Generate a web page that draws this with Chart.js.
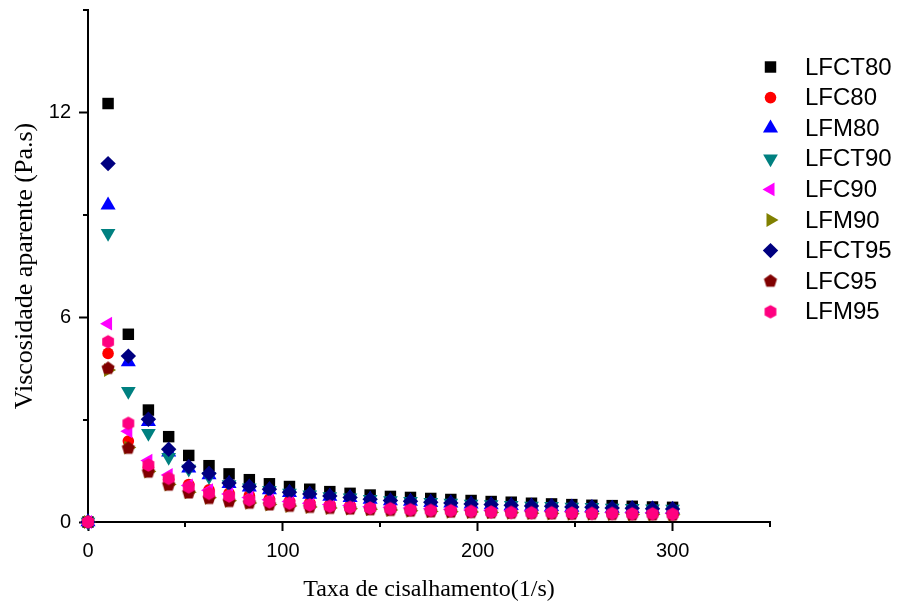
<!DOCTYPE html>
<html><head><meta charset="utf-8">
<script src="https://cdn.jsdelivr.net/npm/chart.js"></script>
<style>html,body{margin:0;padding:0;background:#fff}#wrap{width:899px;height:601px}</style>
</head><body><div id="wrap"><canvas id="c" width="899" height="601"></canvas></div>
<script>
// ---- data ----
const shearRate = [0, 10.3, 20.7, 31.0, 41.4, 51.7, 62.1, 72.4, 82.8, 93.1, 103.4, 113.8, 124.1, 134.5, 144.8, 155.2, 165.5, 175.9, 186.2, 196.6, 206.9, 217.2, 227.6, 237.9, 248.3, 258.6, 269.0, 279.3, 289.7, 300];
const seriesNames = ['LFCT80', 'LFC80', 'LFM80', 'LFCT90', 'LFC90', 'LFM90', 'LFCT95', 'LFC95', 'LFM95'];
const LFCT80 = [0, 12.26, 5.50, 3.28, 2.50, 1.95, 1.65, 1.41, 1.24, 1.12, 1.04, 0.96, 0.89, 0.84, 0.79, 0.75, 0.72, 0.69, 0.66, 0.63, 0.60, 0.58, 0.55, 0.53, 0.51, 0.49, 0.48, 0.46, 0.44, 0.43];
const LFC80  = [0, 4.94, 2.37, 1.60, 1.25, 1.10, 0.94, 0.85, 0.78, 0.68, 0.62, 0.57, 0.52, 0.49, 0.46, 0.43, 0.41, 0.39, 0.37, 0.35, 0.34, 0.32, 0.31, 0.30, 0.29, 0.28, 0.27, 0.27, 0.26, 0.25];
const LFM80  = [0, 9.28, 4.69, 2.94, 2.05, 1.58, 1.38, 1.12, 1.02, 0.94, 0.86, 0.81, 0.75, 0.71, 0.66, 0.62, 0.60, 0.57, 0.55, 0.52, 0.50, 0.48, 0.46, 0.45, 0.43, 0.42, 0.40, 0.39, 0.38, 0.37];
const LFCT90 = [0, 8.46, 3.83, 2.60, 1.90, 1.55, 1.33, 1.10, 1.00, 0.93, 0.85, 0.80, 0.75, 0.71, 0.67, 0.63, 0.61, 0.58, 0.56, 0.53, 0.51, 0.49, 0.47, 0.46, 0.44, 0.43, 0.41, 0.40, 0.39, 0.38];
const LFC90  = [0, 5.81, 2.66, 1.80, 1.38, 1.07, 0.93, 0.82, 0.72, 0.65, 0.60, 0.55, 0.51, 0.48, 0.45, 0.43, 0.41, 0.39, 0.37, 0.35, 0.34, 0.33, 0.32, 0.31, 0.30, 0.29, 0.28, 0.27, 0.27, 0.26];
const LFM90  = [0, 4.45, 2.18, 1.48, 1.10, 0.87, 0.71, 0.62, 0.56, 0.51, 0.47, 0.44, 0.41, 0.39, 0.37, 0.35, 0.33, 0.31, 0.30, 0.29, 0.28, 0.27, 0.26, 0.25, 0.24, 0.24, 0.23, 0.22, 0.22, 0.21];
const LFCT95 = [0, 10.5, 4.86, 3.01, 2.13, 1.62, 1.42, 1.14, 1.04, 0.96, 0.87, 0.82, 0.76, 0.72, 0.67, 0.63, 0.61, 0.58, 0.56, 0.53, 0.51, 0.49, 0.47, 0.46, 0.44, 0.43, 0.41, 0.40, 0.39, 0.38];
const LFC95  = [0, 4.50, 2.16, 1.46, 1.08, 0.85, 0.69, 0.60, 0.55, 0.50, 0.46, 0.43, 0.40, 0.38, 0.36, 0.34, 0.32, 0.30, 0.29, 0.28, 0.27, 0.26, 0.25, 0.24, 0.23, 0.23, 0.22, 0.21, 0.21, 0.20];
const LFM95  = [0, 5.28, 2.89, 1.67, 1.28, 1.03, 0.84, 0.76, 0.65, 0.59, 0.55, 0.50, 0.46, 0.43, 0.41, 0.39, 0.36, 0.34, 0.33, 0.31, 0.29, 0.28, 0.27, 0.27, 0.26, 0.25, 0.25, 0.24, 0.24, 0.23];
const seriesValues = [LFCT80, LFC80, LFM80, LFCT90, LFC90, LFM90, LFCT95, LFC95, LFM95];
const xTickValues = [0, 100, 200, 300];
const yTickValues = [0, 6, 12];
const xMinorTicks = [50, 150, 250, 350];
const yMinorTicks = [3, 9, 15];
const xTitle = 'Taxa de cisalhamento(1/s)';
const yTitle = 'Viscosidade aparente (Pa.s)';

// ---- marker styles ----
function polyCanvas(n, r, color) {
  const size = Math.ceil(r * 2) + 2;
  const c = document.createElement('canvas');
  c.width = size; c.height = size;
  const g = c.getContext('2d');
  g.fillStyle = color; g.beginPath();
  for (let i = 0; i < n; i++) {
    const a = -Math.PI / 2 + i * 2 * Math.PI / n;
    const px = size / 2 + r * Math.cos(a), py = size / 2 + r * Math.sin(a);
    if (i) g.lineTo(px, py); else g.moveTo(px, py);
  }
  g.closePath(); g.fill();
  return c;
}
const styles = [
  {color: '#000000', style: 'rect', r: 8.1, rot: 0},
  {color: '#FF0000', style: 'circle', r: 5.8, rot: 0},
  {color: '#0000FF', style: 'triangle', r: 8.7, rot: 0},
  {color: '#008080', style: 'triangle', r: 8.5, rot: 180},
  {color: '#FF00FF', style: 'triangle', r: 8.0, rot: 270},
  {color: '#808000', style: 'triangle', r: 8.0, rot: 90},
  {color: '#000080', style: 'rectRot', r: 7.7, rot: 0},
  {color: '#800000', style: polyCanvas(5, 6.9, '#800000'), r: 7, rot: 0},
  {color: '#FF0080', style: polyCanvas(6, 6.8, '#FF0080'), r: 7, rot: 0}
];

const datasets = seriesNames.map((name, i) => ({
  label: name,
  data: shearRate.map((x, j) => ({x: x, y: seriesValues[i][j]})),
  backgroundColor: styles[i].color,
  borderColor: styles[i].color,
  pointStyle: styles[i].style,
  pointRadius: styles[i].r,
  pointRotation: styles[i].rot,
  pointBorderWidth: 0,
  showLine: false,
  clip: false,
  order: seriesNames.length - 1 - i
}));

const minorTicks = {
  id: 'minorTicks',
  afterDraw(chart) {
    const ctx = chart.ctx, xs = chart.scales.x, ys = chart.scales.y;
    ctx.save();
    ctx.strokeStyle = '#000'; ctx.lineWidth = 2;
    const b = ys.getPixelForValue(0), l = xs.getPixelForValue(0);
    xMinorTicks.forEach(v => {
      const px = Math.round(xs.getPixelForValue(v));
      ctx.beginPath(); ctx.moveTo(px, b); ctx.lineTo(px, b + 5); ctx.stroke();
    });
    yMinorTicks.forEach(v => {
      const py = Math.round(ys.getPixelForValue(v));
      ctx.beginPath(); ctx.moveTo(l, py); ctx.lineTo(l - 5, py); ctx.stroke();
    });
    ctx.restore();
  }
};

function drawMarker(ctx, st, x, y) {
  ctx.save();
  ctx.fillStyle = st.color;
  ctx.translate(x, y);
  ctx.rotate(st.rot * Math.PI / 180);
  const r = st.r;
  ctx.beginPath();
  if (typeof st.style !== 'string') {
    ctx.drawImage(st.style, -st.style.width / 2, -st.style.height / 2);
    ctx.restore(); return;
  } else if (st.style === 'rect') {
    const s = r * Math.SQRT1_2; ctx.rect(-s, -s, 2 * s, 2 * s);
  } else if (st.style === 'circle') {
    ctx.arc(0, 0, r, 0, Math.PI * 2);
  } else if (st.style === 'triangle') {
    for (let k = 0; k < 3; k++) {
      const a = k * 2 * Math.PI / 3;
      const px = Math.sin(a) * r, py = -Math.cos(a) * r;
      if (k) ctx.lineTo(px, py); else ctx.moveTo(px, py);
    }
  } else if (st.style === 'rectRot') {
    ctx.moveTo(0, -r); ctx.lineTo(r, 0); ctx.lineTo(0, r); ctx.lineTo(-r, 0);
  }
  ctx.closePath(); ctx.fill();
  ctx.restore();
}

const customLegend = {
  id: 'customLegend',
  afterDraw(chart) {
    const ctx = chart.ctx;
    ctx.save();
    ctx.font = '24px "Liberation Sans", Arial, sans-serif';
    ctx.fillStyle = '#000';
    ctx.textBaseline = 'middle';
    ctx.textAlign = 'left';
    seriesNames.forEach((name, i) => {
      const y = 67 + i * 30.6;
      drawMarker(ctx, styles[i], 770.5, y);
      ctx.fillText(name, 805, y + 1);
    });
    ctx.restore();
  }
};

const tickFont = {family: '"Liberation Sans", Arial, sans-serif', size: 20};
const xTitleFont = {family: '"Liberation Serif", "Times New Roman", serif', size: 24};
const yTitleFont = {family: '"Liberation Serif", "Times New Roman", serif', size: 26};

new Chart(document.getElementById('c'), {
  type: 'scatter',
  data: {datasets: datasets},
  options: {
    responsive: false,
    animation: false,
    events: [],
    layout: {padding: {left: 0, right: 129, top: 10, bottom: 0}},
    plugins: {legend: {display: false}, tooltip: {enabled: false}},
    scales: {
      x: {
        type: 'linear', min: 0, max: 350,
        afterBuildTicks: s => { s.ticks = xTickValues.map(v => ({value: v})); },
        afterFit: s => { s.height = 79; s.paddingLeft = 0; s.paddingRight = 0; },
        grid: {drawOnChartArea: false, drawTicks: true, tickLength: 9, tickWidth: 2, tickColor: '#000'},
        border: {display: true, color: '#000', width: 2},
        ticks: {color: '#000', font: tickFont, padding: 8, maxRotation: 0},
        title: {display: true, text: xTitle, color: '#000', font: xTitleFont, padding: {top: 0, bottom: -3}}
      },
      y: {
        type: 'linear', min: 0, max: 15,
        afterBuildTicks: s => { s.ticks = yTickValues.map(v => ({value: v})); },
        afterFit: s => { s.width = 88; s.paddingTop = 0; s.paddingBottom = 0; },
        grid: {drawOnChartArea: false, drawTicks: true, tickLength: 9, tickWidth: 2, tickColor: '#000'},
        border: {display: true, color: '#000', width: 2},
        ticks: {color: '#000', font: tickFont, padding: 8},
        title: {display: true, text: yTitle, color: '#000', font: yTitleFont, padding: {top: 10, bottom: 0}}
      }
    }
  },
  plugins: [minorTicks, customLegend]
});
</script>
</body></html>
